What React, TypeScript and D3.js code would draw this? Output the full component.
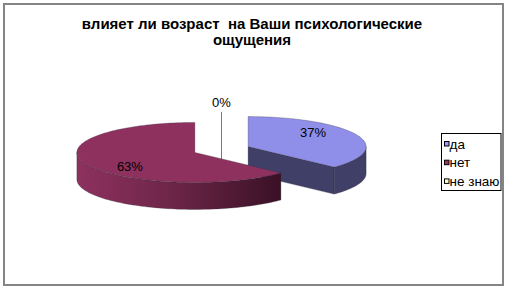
import React from "react";
import * as d3 from "d3";

const categories = ["да", "нет", "не знаю"];
const values = [37, 63, 0];
const labels = ["37%", "63%", "0%"];
const titleLines = ["влияет ли возраст  на Ваши психологические", "ощущения"];

const W = 509;
const H = 292;
const topColors = ["#8F8FEA", "#8E315F", "#FFFFCC"];
const sideColors = ["#3F3F68", "#6A2447", "#CCCC99"];
const legendColors = ["#9999FF", "#993366", "#FFFFCC"];

const C = { x: 221.5, y: 149.5 };
const rx = 118;
const ry = 30;
const depth = 27;
const explode = 29;
const FONT = "'Liberation Sans', Arial, sans-serif";

function pt(cx: number, cy: number, a: number, dy = 0): [number, number] {
  return [cx + rx * Math.sin(a), cy - ry * Math.cos(a) + dy];
}

function arcPts(cx: number, cy: number, a0: number, a1: number, dy = 0) {
  const n = Math.max(2, Math.ceil(Math.abs(a1 - a0) / 0.03));
  return d3.range(n + 1).map((i) => pt(cx, cy, a0 + ((a1 - a0) * i) / n, dy));
}

export default function App() {
  const pie = d3
    .pie<number>()
    .sort(null)
    .startAngle(0)
    .endAngle(2 * Math.PI)
    .value((d) => d);
  const arcs = pie(values);
  const line = d3.line();

  const slices = arcs
    .map((a, i) => {
      const mid = (a.startAngle + a.endAngle) / 2;
      const cx = C.x + explode * Math.sin(mid);
      const cy = C.y - explode * (ry / rx) * Math.cos(mid);
      return { a, i, mid, cx, cy };
    })
    .filter((s) => s.a.endAngle - s.a.startAngle > 1e-6)
    .sort((p, q) => p.cy - q.cy);

  const zero = arcs[2];
  const zx = C.x + explode * Math.sin(zero.startAngle);

  return (
    <svg
      width={W}
      height={H}
      style={{ position: "absolute", left: 0, top: 0, background: "#fff" }}
    >
      <defs>
        <linearGradient id="side1" x1="0" x2="1" y1="0" y2="0">
          <stop offset="0" stopColor="#8E315F" />
          <stop offset="0.45" stopColor="#6E2649" />
          <stop offset="1" stopColor="#3A1126" />
        </linearGradient>
      </defs>
      <rect x={4} y={4} width={499} height={281} fill="#fff" stroke="#858585" strokeWidth={2} />
      {titleLines.map((t, i) => (
        <text
          key={i}
          x={252}
          y={28.5 + i * 16.5}
          textAnchor="middle"
          fontFamily={FONT}
          fontWeight="bold"
          fontSize={15}
          fill="#000"
          style={{ whiteSpace: "pre" }}
        >
          {t}
        </text>
      ))}
      {/* leader line for the 0% slice */}
      <line x1={zx} x2={zx} y1={112} y2={160} stroke="#7a7a7a" strokeWidth={1} />
      {slices.map(({ a, i, cx, cy }) => {
        const a0 = a.startAngle;
        const a1 = a.endAngle;
        const parts: JSX.Element[] = [];
        const cuts: [number, number][] = [
          [a0, a0 - Math.PI / 2],
          [a1, a1 + Math.PI / 2],
        ];
        cuts.forEach(([ang, nrm], k) => {
          if (-Math.cos(nrm) > 1e-3) {
            const p = pt(cx, cy, ang);
            const poly: [number, number][] = [
              [cx, cy],
              p,
              [p[0], p[1] + depth],
              [cx, cy + depth],
            ];
            parts.push(
              <path
                key={"cut" + k}
                d={line(poly)! + "Z"}
                fill={sideColors[i]}
                stroke="#2a2a3a"
                strokeWidth={0.5}
                strokeOpacity={0.6}
              />
            );
          }
        });
        const s0 = Math.max(a0, Math.PI / 2);
        const s1 = Math.min(a1, (3 * Math.PI) / 2);
        if (s1 > s0) {
          const topArc = arcPts(cx, cy, s0, s1);
          const botArc = arcPts(cx, cy, s1, s0, depth);
          parts.push(
            <path
              key="side"
              d={line([...topArc, ...botArc])! + "Z"}
              fill={i === 1 ? "url(#side1)" : sideColors[i]}
              stroke="#2a2a3a"
              strokeWidth={0.5}
              strokeOpacity={0.6}
            />
          );
        }
        const top: [number, number][] = [[cx, cy], ...arcPts(cx, cy, a0, a1)];
        parts.push(
          <path
            key="top"
            d={line(top)! + "Z"}
            fill={topColors[i]}
            stroke="#3a2a3a"
            strokeWidth={0.5}
            strokeOpacity={0.6}
          />
        );
        return <g key={i}>{parts}</g>;
      })}
      {slices.map(({ i, mid, cx, cy }) => (
        <text
          key={"l" + i}
          x={cx + 0.6 * rx * Math.sin(mid)}
          y={cy - 0.6 * 2 * ry * Math.cos(mid) + 4.5}
          textAnchor="middle"
          fontFamily={FONT}
          fontSize={13}
          fill="#000"
        >
          {labels[i]}
        </text>
      ))}
      <text x={zx} y={107} textAnchor="middle" fontFamily={FONT} fontSize={13} fill="#000">
        {labels[2]}
      </text>
      <rect x={441.5} y={133.5} width={59.5} height={57} fill="#fff" stroke="#000" strokeWidth={1} />
      {categories.map((c, i) => (
        <g key={c} transform={`translate(444, ${141 + i * 18.7})`}>
          <rect x={0.5} y={0.5} width={4.5} height={4.5} fill={legendColors[i]} stroke="#000" strokeWidth={1} />
          <text x={5.5} y={7.5} fontFamily={FONT} fontSize={13.5} fill="#000">
            {c}
          </text>
        </g>
      ))}
    </svg>
  );
}
